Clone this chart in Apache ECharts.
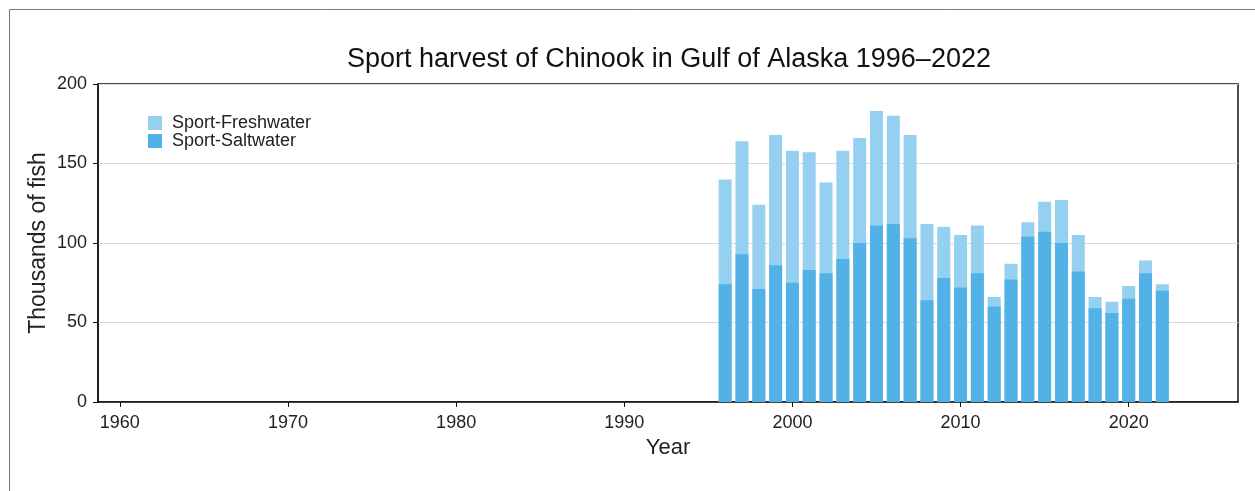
<!DOCTYPE html>
<html>
<head>
<meta charset="utf-8">
<title>Sport harvest of Chinook</title>
<script src="https://cdn.jsdelivr.net/npm/echarts@6/dist/echarts.min.js"></script>
<style>
  html, body { margin: 0; padding: 0; background: #fff; }
  #chart { width: 1255px; height: 491px; }
</style>
</head>
<body>
<div id="chart"></div>
<script>
// ----------------------------------------
// data (thousands of fish)
// ----------------------------------------

const years = [
    1996, 1997, 1998, 1999, 2000, 2001, 2002, 2003, 2004,
    2005, 2006, 2007, 2008, 2009, 2010, 2011, 2012, 2013,
    2014, 2015, 2016, 2017, 2018, 2019, 2020, 2021, 2022
];

const saltwater = [
    74, 93, 71, 86, 75, 83, 81, 90, 100,
    111, 112, 103, 64, 78, 72, 81, 60, 77,
    104, 107, 100, 82, 59, 56, 65, 81, 70
];

const freshwater = [
    66, 71, 53, 82, 83, 74, 57, 68, 66,
    72, 68, 65, 48, 32, 33, 30, 6, 10,
    9, 19, 27, 23, 7, 7, 8, 8, 4
];

const yearTicks = [1960, 1970, 1980, 1990, 2000, 2010, 2020];

const FONT = "Liberation Sans, Arial, sans-serif";

// stacked total: freshwater sits on top of saltwater
const totals = years.map((y, i) => [y, saltwater[i] + freshwater[i]]);

// ----------------------------------------
// chart
// ----------------------------------------

const chart = echarts.init(
    document.getElementById("chart")
);

chart.setOption({
    animation: false,
    textStyle: { fontFamily: FONT },
    title: {
        text: "Sport harvest of Chinook in Gulf of Alaska 1996\u20132022",
        left: 664,
        top: 41,
        textAlign: "center",
        textStyle: {
            fontFamily: FONT,
            fontSize: 27,
            fontWeight: "normal",
            color: "#111"
        }
    },
    graphic: [{
        type: "rect",
        shape: { x: 9.5, y: 9.5, width: 1260, height: 500 },
        style: { fill: "none", stroke: "#777", lineWidth: 1 },
        silent: true
    }],
    legend: {
        orient: "vertical",
        left: 143,
        top: 109,
        icon: "rect",
        itemWidth: 14,
        itemHeight: 14,
        itemGap: 0,
        data: ["Sport-Freshwater", "Sport-Saltwater"],
        textStyle: {
            fontFamily: FONT,
            fontSize: 18,
            lineHeight: 18,
            color: "#222",
            padding: [0, 0, 0, 5]
        }
    },
    grid: {
        left: 98,
        right: 17,
        top: 84,
        bottom: 89,
        show: true,
        borderColor: "#111",
        borderWidth: 1.5,
        backgroundColor: "transparent"
    },
    xAxis: {
        type: "value",
        min: 1958.7,
        max: 2026.5,
        name: "Year",
        nameLocation: "middle",
        nameGap: 31,
        nameTextStyle: {
            fontFamily: FONT,
            fontSize: 22,
            color: "#222"
        },
        axisLine: {
            show: true,
            onZero: false,
            lineStyle: { color: "#111", width: 1.5 }
        },
        axisTick: {
            show: true,
            length: 5,
            customValues: yearTicks,
            lineStyle: { color: "#111" }
        },
        axisLabel: {
            customValues: yearTicks,
            margin: 12,
            fontSize: 18,
            color: "#222",
            formatter: v => String(v)
        },
        splitLine: { show: false }
    },
    yAxis: {
        type: "value",
        min: 0,
        max: 200,
        interval: 50,
        name: "Thousands of fish",
        nameLocation: "middle",
        nameGap: 48,
        nameMoveOverlap: false,
        nameTextStyle: {
            fontFamily: FONT,
            fontSize: 23,
            color: "#222"
        },
        axisLine: {
            show: true,
            lineStyle: { color: "#111", width: 1.5 }
        },
        axisTick: {
            show: true,
            length: 5,
            lineStyle: { color: "#111" }
        },
        axisLabel: {
            margin: 11,
            fontSize: 18,
            color: "#222"
        },
        splitLine: {
            lineStyle: { color: "#d9d9d9", width: 1 }
        }
    },
    series: [{
        name: "Sport-Freshwater",
        type: "bar",
        barWidth: 13,
        barGap: "-100%",
        itemStyle: { color: "#95d0f1" },
        data: totals
    }, {
        name: "Sport-Saltwater",
        type: "bar",
        barWidth: 13,
        barGap: "-100%",
        itemStyle: { color: "#52b2e8" },
        data: years.map((y, i) => [y, saltwater[i]])
    }]
});
</script>
</body>
</html>
